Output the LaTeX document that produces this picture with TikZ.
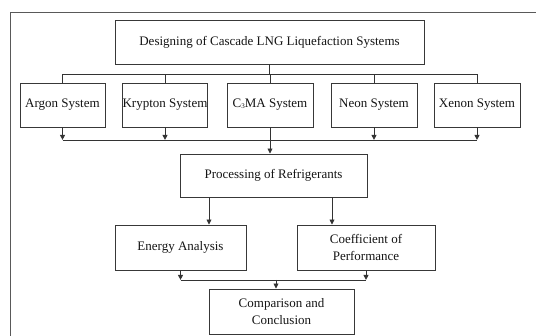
\documentclass[tikz,border=0pt]{standalone}
\usepackage{fontspec}
\setmainfont{Liberation Serif}
\usetikzlibrary{arrows.meta}
\begin{document}
\begin{tikzpicture}[x=1pt,y=-1pt,
  box/.style={draw=black!78,line width=0.9pt,inner sep=0pt,align=center,font=\fontsize{13}{16.3}\selectfont,text=black!92},
  conn/.style={draw=black!80,line width=0.9pt},
  arr/.style={conn,-{Triangle[length=5pt,width=4.8pt]}}]
\useasboundingbox (0,0) rectangle (536,336);
\draw[black!65,line width=0.8pt] (10,336) -- (10,12) -- (536,12);
\node[box,minimum width=309pt,minimum height=44pt] (top) at (269.5,42) {Designing of Cascade LNG Liquefaction Systems};
\node[box,minimum width=85pt,minimum height=44pt] (argon) at (62.5,105) {Argon System};
\node[box,minimum width=84pt,minimum height=44pt] (krypton) at (165,105) {Krypton System};
\node[box,minimum width=86pt,minimum height=44pt] (cma) at (270,105) {C{\fontsize{7}{7}\selectfont\raisebox{-1pt}{3}}MA System};
\node[box,minimum width=86pt,minimum height=44pt] (neon) at (374,105) {Neon System};
\node[box,minimum width=86pt,minimum height=44pt] (xenon) at (477,105) {Xenon System};
\node[box,minimum width=187pt,minimum height=43pt] (proc) at (273.5,175.5) {Processing of Refrigerants};
\node[box,minimum width=131pt,minimum height=45pt] (energy) at (180.5,247.5) {Energy Analysis};
\node[box,minimum width=138pt,minimum height=45pt] (cop) at (366,247.5) {Coefficient of\\Performance};
\node[box,minimum width=145pt,minimum height=45pt] (comp) at (281.5,311.5) {Comparison and\\Conclusion};
% buses
\coordinate (busT) at (0,74);
\coordinate (busB) at (0,140);
\coordinate (busC) at (0,280);
\draw[conn] (top.south) -- (top.south |- busT);
\draw[conn] (argon.north) -- (argon.north |- busT) -| (xenon.north);
\draw[conn] (krypton.north) -- (krypton.north |- busT);
\draw[conn] (cma.north) -- (cma.north |- busT);
\draw[conn] (neon.north) -- (neon.north |- busT);
\draw[conn] (argon.south |- busB) -- (xenon.south |- busB);
\draw[arr] (argon.south) -- (argon.south |- busB);
\draw[arr] (krypton.south) -- (krypton.south |- busB);
\draw[arr] (neon.south) -- (neon.south |- busB);
\draw[arr] (xenon.south) -- (xenon.south |- busB);
\draw[arr] (cma.south) -- (cma.south |- proc.north);
\coordinate (p1) at ([xshift=-64.5pt]proc.south);
\coordinate (p2) at ([xshift=58.5pt]proc.south);
\draw[arr] (p1) -- (p1 |- energy.north);
\draw[arr] (p2) -- (p2 |- cop.north);
\draw[conn] (energy.south |- busC) -- (cop.south |- busC);
\draw[arr] (energy.south) -- (energy.south |- busC);
\draw[arr] (cop.south) -- (cop.south |- busC);
\coordinate (c1) at ([xshift=-5.5pt]comp.north);
\draw[arr] (c1 |- busC) -- (c1);
\end{tikzpicture}
\end{document}
